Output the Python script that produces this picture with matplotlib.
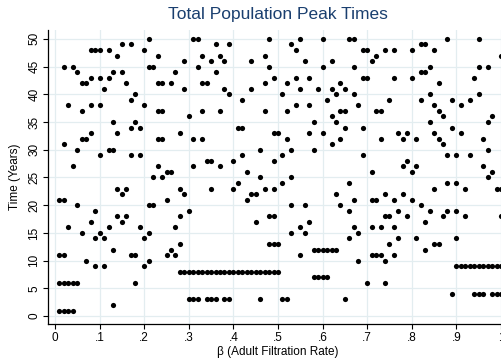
import numpy as np
import matplotlib
matplotlib.use("Agg")
import matplotlib.pyplot as plt

# beta values (adult filtration rate), 0.01 steps
beta = [0.01, 0.02, 0.03, 0.04, 0.05, 0.06, 0.07, 0.08, 0.09, 0.10,
        0.11, 0.12, 0.13, 0.14, 0.15, 0.16, 0.17, 0.18, 0.19, 0.20,
        0.21, 0.22, 0.23, 0.24, 0.25, 0.26, 0.27, 0.28, 0.29, 0.30,
        0.31, 0.32, 0.33, 0.34, 0.35, 0.36, 0.37, 0.38, 0.39, 0.40,
        0.41, 0.42, 0.43, 0.44, 0.45, 0.46, 0.47, 0.48, 0.49, 0.50,
        0.51, 0.52, 0.53, 0.54, 0.55, 0.56, 0.57, 0.58, 0.59, 0.60,
        0.61, 0.62, 0.63, 0.64, 0.65, 0.66, 0.67, 0.68, 0.69, 0.70,
        0.71, 0.72, 0.73, 0.74, 0.75, 0.76, 0.77, 0.78, 0.79, 0.80,
        0.81, 0.82, 0.83, 0.84, 0.85, 0.86, 0.87, 0.88, 0.89, 0.90,
        0.91, 0.92, 0.93, 0.94, 0.95, 0.96, 0.97, 0.98, 0.99, 1.00]

# peak times (years) for each beta
peak_times = [
    [21, 11, 6, 1], [45, 31, 21, 11, 6, 1], [38, 16, 6, 1], [45, 27, 6, 1],
    [44, 30, 20, 6], [42, 37, 32, 15], [42, 32, 10], [48, 43, 38, 33, 17],
    [48, 19, 14, 9], [48, 43, 38, 29, 15],
    [41, 14, 9], [48, 43, 30, 16], [44, 35, 30, 12, 2], [47, 33, 23, 18],
    [49, 44, 22, 17], [42, 23, 18], [49, 39, 34, 29, 11], [40, 35, 11, 6],
    [34, 29, 16], [48, 38, 14, 9],
    [50, 45, 20, 15, 10], [45, 25, 20], [47, 42, 37, 32, 27], [42, 37, 32, 25],
    [26, 21, 11], [42, 26, 12], [44, 16, 11], [33, 23, 18, 13, 8],
    [46, 41, 22, 8], [36, 19, 8, 3],
    [50, 32, 27, 8, 3], [50, 45, 8, 3], [47, 42, 37, 32, 8], [42, 28, 8, 3],
    [46, 28, 23, 8, 3], [49, 44, 8, 3], [47, 37, 27, 8], [46, 41, 8, 3],
    [49, 40, 8, 3], [28, 23, 8],
    [34, 24, 8], [39, 34, 29, 8], [26, 21, 8], [46, 41, 22, 8],
    [22, 17, 8], [30, 25, 8, 3], [47, 42, 37, 23, 8], [50, 45, 18, 13, 8],
    [43, 33, 28, 23, 18, 13, 8], [33, 13, 8],
    [40, 29, 24, 3], [42, 37, 32, 3], [49, 30, 25, 20, 15], [48, 43, 38],
    [50, 41, 16, 11], [46, 20, 15], [43, 38, 33, 17], [35, 30, 12, 7],
    [41, 12, 7], [50, 45, 33, 12, 7],
    [39, 12, 7], [46, 41, 36, 31, 12], [40, 35, 22, 12], [42, 37, 32, 20],
    [41, 37, 34, 3], [50, 24, 19, 14], [50, 45, 40, 21, 16], [38, 15, 10],
    [48, 43, 34, 29], [48, 43, 6],
    [46, 26, 21, 16, 11], [47, 37, 21, 11], [37, 32, 16, 11], [48, 22, 18, 10, 6],
    [39, 18, 13], [48, 43, 21, 16, 11], [33, 19, 14], [32, 27, 22],
    [33, 28, 18], [48, 43, 26, 21],
    [32, 27, 14], [49, 44, 39, 20], [49, 44, 17, 12], [45, 40, 35, 19],
    [48, 38, 33, 23, 13], [42, 37, 32, 13], [36, 31, 18], [50, 29, 24, 19],
    [39, 34, 4], [29, 24, 19, 14, 9],
    [38, 33, 9], [23, 18, 9], [39, 29, 9], [43, 9, 4],
    [50, 45, 40, 9, 4], [32, 27, 9, 4], [45, 35, 30, 25, 9], [36, 26, 9, 4],
    [23, 9, 4], [47, 23, 18, 9, 4],
]

x_ticks = [0, 0.1, 0.2, 0.3, 0.4, 0.5, 0.6, 0.7, 0.8, 0.9, 1.0]
x_ticklabels = ["0", ".1", ".2", ".3", ".4", ".5", ".6", ".7", ".8", ".9", "1"]
y_ticks = [0, 5, 10, 15, 20, 25, 30, 35, 40, 45, 50]

x = np.repeat(beta, [len(t) for t in peak_times])
y = np.concatenate([np.array(t, dtype=float) for t in peak_times])

plt.rcParams['font.family'] = ['Liberation Sans', 'DejaVu Sans']

fig = plt.figure(figsize=(5.01, 3.63), dpi=100)
ax = fig.add_axes([48 / 501, 39 / 363, 460 / 501, 294 / 363])

grid_col = '#e3edf0'
for v in x_ticks:
    ax.axvline(v, color=grid_col, linewidth=0.9, zorder=0)
for v in y_ticks:
    ax.axhline(v, color=grid_col, linewidth=0.9, zorder=0)

ax.scatter(x, y, s=14, color='black', linewidths=0, zorder=3)

ax.set_xlim(-0.0157, 1.0157)
ax.set_ylim(-1.43, 51.6)
ax.set_xticks(x_ticks)
ax.set_xticklabels(x_ticklabels)
ax.set_yticks(y_ticks)
ax.set_yticklabels([str(v) for v in y_ticks], rotation=90, va='center')

ax.spines['top'].set_visible(False)
ax.spines['right'].set_visible(False)
ax.spines['left'].set_linewidth(0.9)
ax.spines['bottom'].set_linewidth(0.9)
ax.tick_params(axis='both', length=3.5, width=0.8, labelsize=8.5, pad=2, colors='black')

ax.set_xlabel("β (Adult Filtration Rate)", fontsize=8.5, labelpad=2)
ax.set_ylabel("Time (Years)", fontsize=8.5, labelpad=5)
ax.set_title("Total Population Peak Times", fontsize=12.5, color='#1a3f6f', pad=8)

fig.savefig("out.png", dpi=100)
